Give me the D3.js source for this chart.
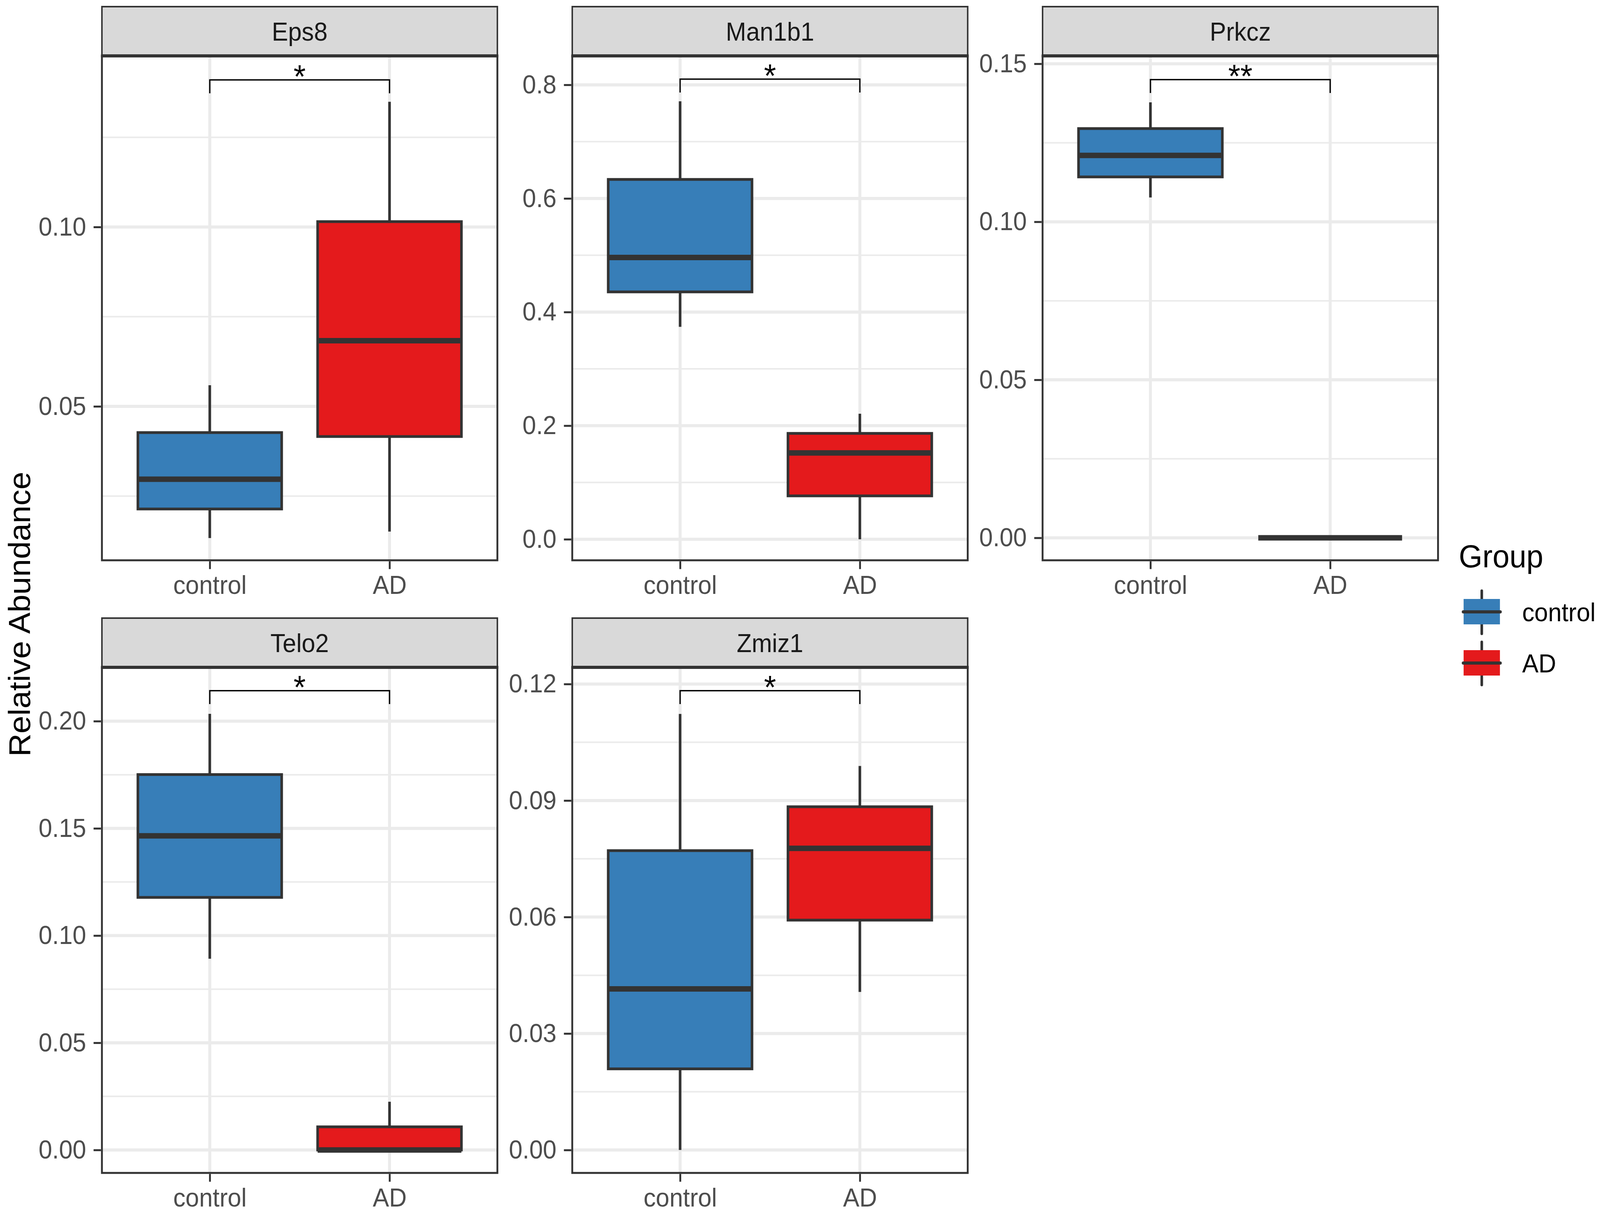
<!DOCTYPE html>
<html><head><meta charset="utf-8">
<script src="https://cdn.jsdelivr.net/npm/d3@7"></script>
<style>html,body{margin:0;padding:0;background:#fff;overflow:hidden;width:100%;height:100%;} svg{display:block;width:100vw;height:100vh;}</style>
</head><body><svg id="chart" viewBox="0 0 4317 3102" preserveAspectRatio="none"></svg>
<script>
// ---------------- data ----------------
const genes = ["Eps8", "Man1b1", "Prkcz", "Telo2", "Zmiz1"];
const groups = ["control", "AD"];
const groupColors = ["#377EB8", "#E41A1C"];
// five-number summaries: [lower whisker, Q1, median, Q3, upper whisker]
const controlStats = [
  [0.0133, 0.0214, 0.0297, 0.0427, 0.0559],
  [0.374, 0.4355, 0.496, 0.6335, 0.771],
  [0.1077, 0.1142, 0.121, 0.1295, 0.1378],
  [0.0892, 0.1178, 0.1465, 0.1751, 0.2034],
  [0.0, 0.0209, 0.0415, 0.0771, 0.1123]
];
const adStats = [
  [0.0151, 0.0416, 0.0683, 0.1015, 0.1349],
  [0.0, 0.0764, 0.152, 0.1864, 0.221],
  [0.0, 0.0, 0.0, 0.0, 0.0],
  [0.0, 0.0, 0.0, 0.0108, 0.0225],
  [0.0407, 0.0592, 0.0777, 0.0884, 0.0989]
];
const sigLabels = ["*", "*", "**", "*", "*"];
const bracketY = [0.141, 0.810, 0.145, 0.2142, 0.1183];
const yTicks = [
  [0.05, 0.10],
  [0.0, 0.2, 0.4, 0.6, 0.8],
  [0.00, 0.05, 0.10, 0.15],
  [0.00, 0.05, 0.10, 0.15, 0.20],
  [0.00, 0.03, 0.06, 0.09, 0.12]
];
const yTickLabels = [
  ["0.05", "0.10"],
  ["0.0", "0.2", "0.4", "0.6", "0.8"],
  ["0.00", "0.05", "0.10", "0.15"],
  ["0.00", "0.05", "0.10", "0.15", "0.20"],
  ["0.00", "0.03", "0.06", "0.09", "0.12"]
];
const yDomains = [
  [0.0071, 0.1477],
  [-0.037, 0.851],
  [-0.0071, 0.1525],
  [-0.0107, 0.2251],
  [-0.0059, 0.1243]
];
const yTitle = "Relative Abundance";
const legendTitle = "Group";

// ---------------- layout / style ----------------
const W = 4317, H = 3102;
const FONT = "'Liberation Sans', Arial, Helvetica, sans-serif";
const colLeft = [275, 1544, 2813], panelW = 1067;
const rowStripTop = [17, 1582], stripH = 126, rowPlotBottom = [1434, 3002];
const LINE = "#333333";
const tipFrac = 0.0265;

const svg = d3.select("#chart");
svg.append("rect").attr("width", W).attr("height", H).attr("fill", "#fff");

genes.forEach((gene, i) => {
  const col = i % 3, row = Math.floor(i / 3);
  const x0 = colLeft[col];
  const stripTop = rowStripTop[row];
  const top = stripTop + stripH;
  const bottom = rowPlotBottom[row];
  const x = d3.scalePoint().domain(groups).range([x0, x0 + panelW]).padding(0.6);
  const y = d3.scaleLinear().domain(yDomains[i]).range([bottom, top]);
  const bw = 0.8 * x.step();
  const g = svg.append("g");
  const clipId = "clip" + i;
  svg.append("clipPath").attr("id", clipId).append("rect")
    .attr("x", x0).attr("y", top).attr("width", panelW).attr("height", bottom - top);
  const inner = g.append("g").attr("clip-path", `url(#${clipId})`);

  inner.append("rect").attr("x", x0).attr("y", top).attr("width", panelW).attr("height", bottom - top).attr("fill", "#fff");

  // minor grid
  const ticks = yTicks[i];
  const step = ticks[1] - ticks[0];
  const [d0, d1] = yDomains[i];
  const minors = [];
  for (let k = Math.floor((d0 - ticks[0]) / step) - 1; k <= Math.ceil((d1 - ticks[0]) / step) + 1; k++) {
    const v = ticks[0] + (k + 0.5) * step;
    if (v > d0 && v < d1) minors.push(v);
  }
  inner.selectAll(".minor").data(minors).join("line")
    .attr("x1", x0).attr("x2", x0 + panelW)
    .attr("y1", d => y(d)).attr("y2", d => y(d))
    .attr("stroke", "#EBEBEB").attr("stroke-width", 4);
  inner.selectAll(".major").data(ticks).join("line")
    .attr("x1", x0).attr("x2", x0 + panelW)
    .attr("y1", d => y(d)).attr("y2", d => y(d))
    .attr("stroke", "#EBEBEB").attr("stroke-width", 8);
  inner.selectAll(".vmajor").data(groups).join("line")
    .attr("x1", d => x(d)).attr("x2", d => x(d))
    .attr("y1", top).attr("y2", bottom)
    .attr("stroke", "#EBEBEB").attr("stroke-width", 8);

  // boxes
  const stats = [controlStats[i], adStats[i]];
  stats.forEach((s, j) => {
    const cx = x(groups[j]);
    inner.append("line").attr("x1", cx).attr("x2", cx)
      .attr("y1", y(s[0])).attr("y2", y(s[1]))
      .attr("stroke", LINE).attr("stroke-width", 7);
    inner.append("line").attr("x1", cx).attr("x2", cx)
      .attr("y1", y(s[3])).attr("y2", y(s[4]))
      .attr("stroke", LINE).attr("stroke-width", 7);
    inner.append("rect")
      .attr("x", cx - bw / 2).attr("y", y(s[3]))
      .attr("width", bw).attr("height", Math.max(0, y(s[1]) - y(s[3])))
      .attr("fill", groupColors[j]).attr("stroke", LINE).attr("stroke-width", 7);
    inner.append("line").attr("x1", cx - bw / 2).attr("x2", cx + bw / 2)
      .attr("y1", y(s[2])).attr("y2", y(s[2]))
      .attr("stroke", LINE).attr("stroke-width", 14);
  });

  // significance bracket
  const b = bracketY[i];
  const tip = b - tipFrac * (d1 - d0);
  const xc = x(groups[0]), xa = x(groups[1]);
  inner.append("path")
    .attr("d", `M${xc},${y(tip)}L${xc},${y(b)}L${xa},${y(b)}L${xa},${y(tip)}`)
    .attr("fill", "none").attr("stroke", "#000").attr("stroke-width", 3.5);
  g.append("text").attr("x", (xc + xa) / 2).attr("y", y(b) + 20)
    .attr("text-anchor", "middle").attr("font-family", FONT).attr("font-size", 84)
    .attr("fill", "#000").text(sigLabels[i]);

  // panel border
  g.append("rect").attr("x", x0).attr("y", top).attr("width", panelW).attr("height", bottom - top)
    .attr("fill", "none").attr("stroke", LINE).attr("stroke-width", 5);

  // strip
  g.append("rect").attr("x", x0).attr("y", stripTop).attr("width", panelW).attr("height", stripH)
    .attr("fill", "#D9D9D9").attr("stroke", LINE).attr("stroke-width", 4);
  g.append("line").attr("x1", x0 - 2.5).attr("x2", x0 + panelW + 2.5).attr("y1", top).attr("y2", top)
    .attr("stroke", LINE).attr("stroke-width", 8);
  g.append("text").attr("x", x0 + panelW / 2).attr("y", stripTop + stripH / 2)
    .attr("dy", "0.36em").attr("text-anchor", "middle")
    .attr("font-family", FONT).attr("font-size", 66).attr("fill", "#1A1A1A").text(gene);

  // axes
  const yAxis = d3.axisLeft(y).tickValues(ticks)
    .tickFormat((d, k) => yTickLabels[i][k]).tickSize(20).tickPadding(20);
  const ya = g.append("g").attr("transform", `translate(${x0 - 2.5},0)`).call(yAxis);
  const xAxis = d3.axisBottom(x).tickSize(20).tickPadding(17);
  const xa2 = g.append("g").attr("transform", `translate(0,${bottom + 2.5})`).call(xAxis);
  [ya, xa2].forEach(a => {
    a.select(".domain").remove();
    a.selectAll(".tick line").attr("stroke", LINE).attr("stroke-width", 5);
    a.selectAll(".tick text").attr("fill", "#4D4D4D").attr("font-family", FONT).attr("font-size", 66);
  });
});

// y axis title
svg.append("text").attr("transform", "translate(81,1572) rotate(-90)")
  .attr("text-anchor", "middle").attr("font-family", FONT).attr("font-size", 82)
  .attr("fill", "#000").text(yTitle);

// legend
const lg = svg.append("g");
lg.append("text").attr("x", 3936).attr("y", 1452).attr("font-family", FONT).attr("font-size", 82)
  .attr("fill", "#000").text(legendTitle);
groups.forEach((grp, j) => {
  const cy = 1566 + j * 131, cx = 3998;
  lg.append("line").attr("x1", cx).attr("x2", cx).attr("y1", cy - 54).attr("y2", cy + 56)
    .attr("stroke", LINE).attr("stroke-width", 7).attr("stroke-linecap", "round");
  lg.append("rect").attr("x", cx - 49).attr("y", cy - 33).attr("width", 98).attr("height", 65)
    .attr("fill", groupColors[j]);
  lg.append("line").attr("x1", cx - 50).attr("x2", cx + 50).attr("y1", cy).attr("y2", cy)
    .attr("stroke", LINE).attr("stroke-width", 8).attr("stroke-linecap", "round");
  lg.append("text").attr("x", 4107).attr("y", cy).attr("dy", "0.36em")
    .attr("font-family", FONT).attr("font-size", 66).attr("fill", "#000").text(grp);
});
</script>
</body></html>
